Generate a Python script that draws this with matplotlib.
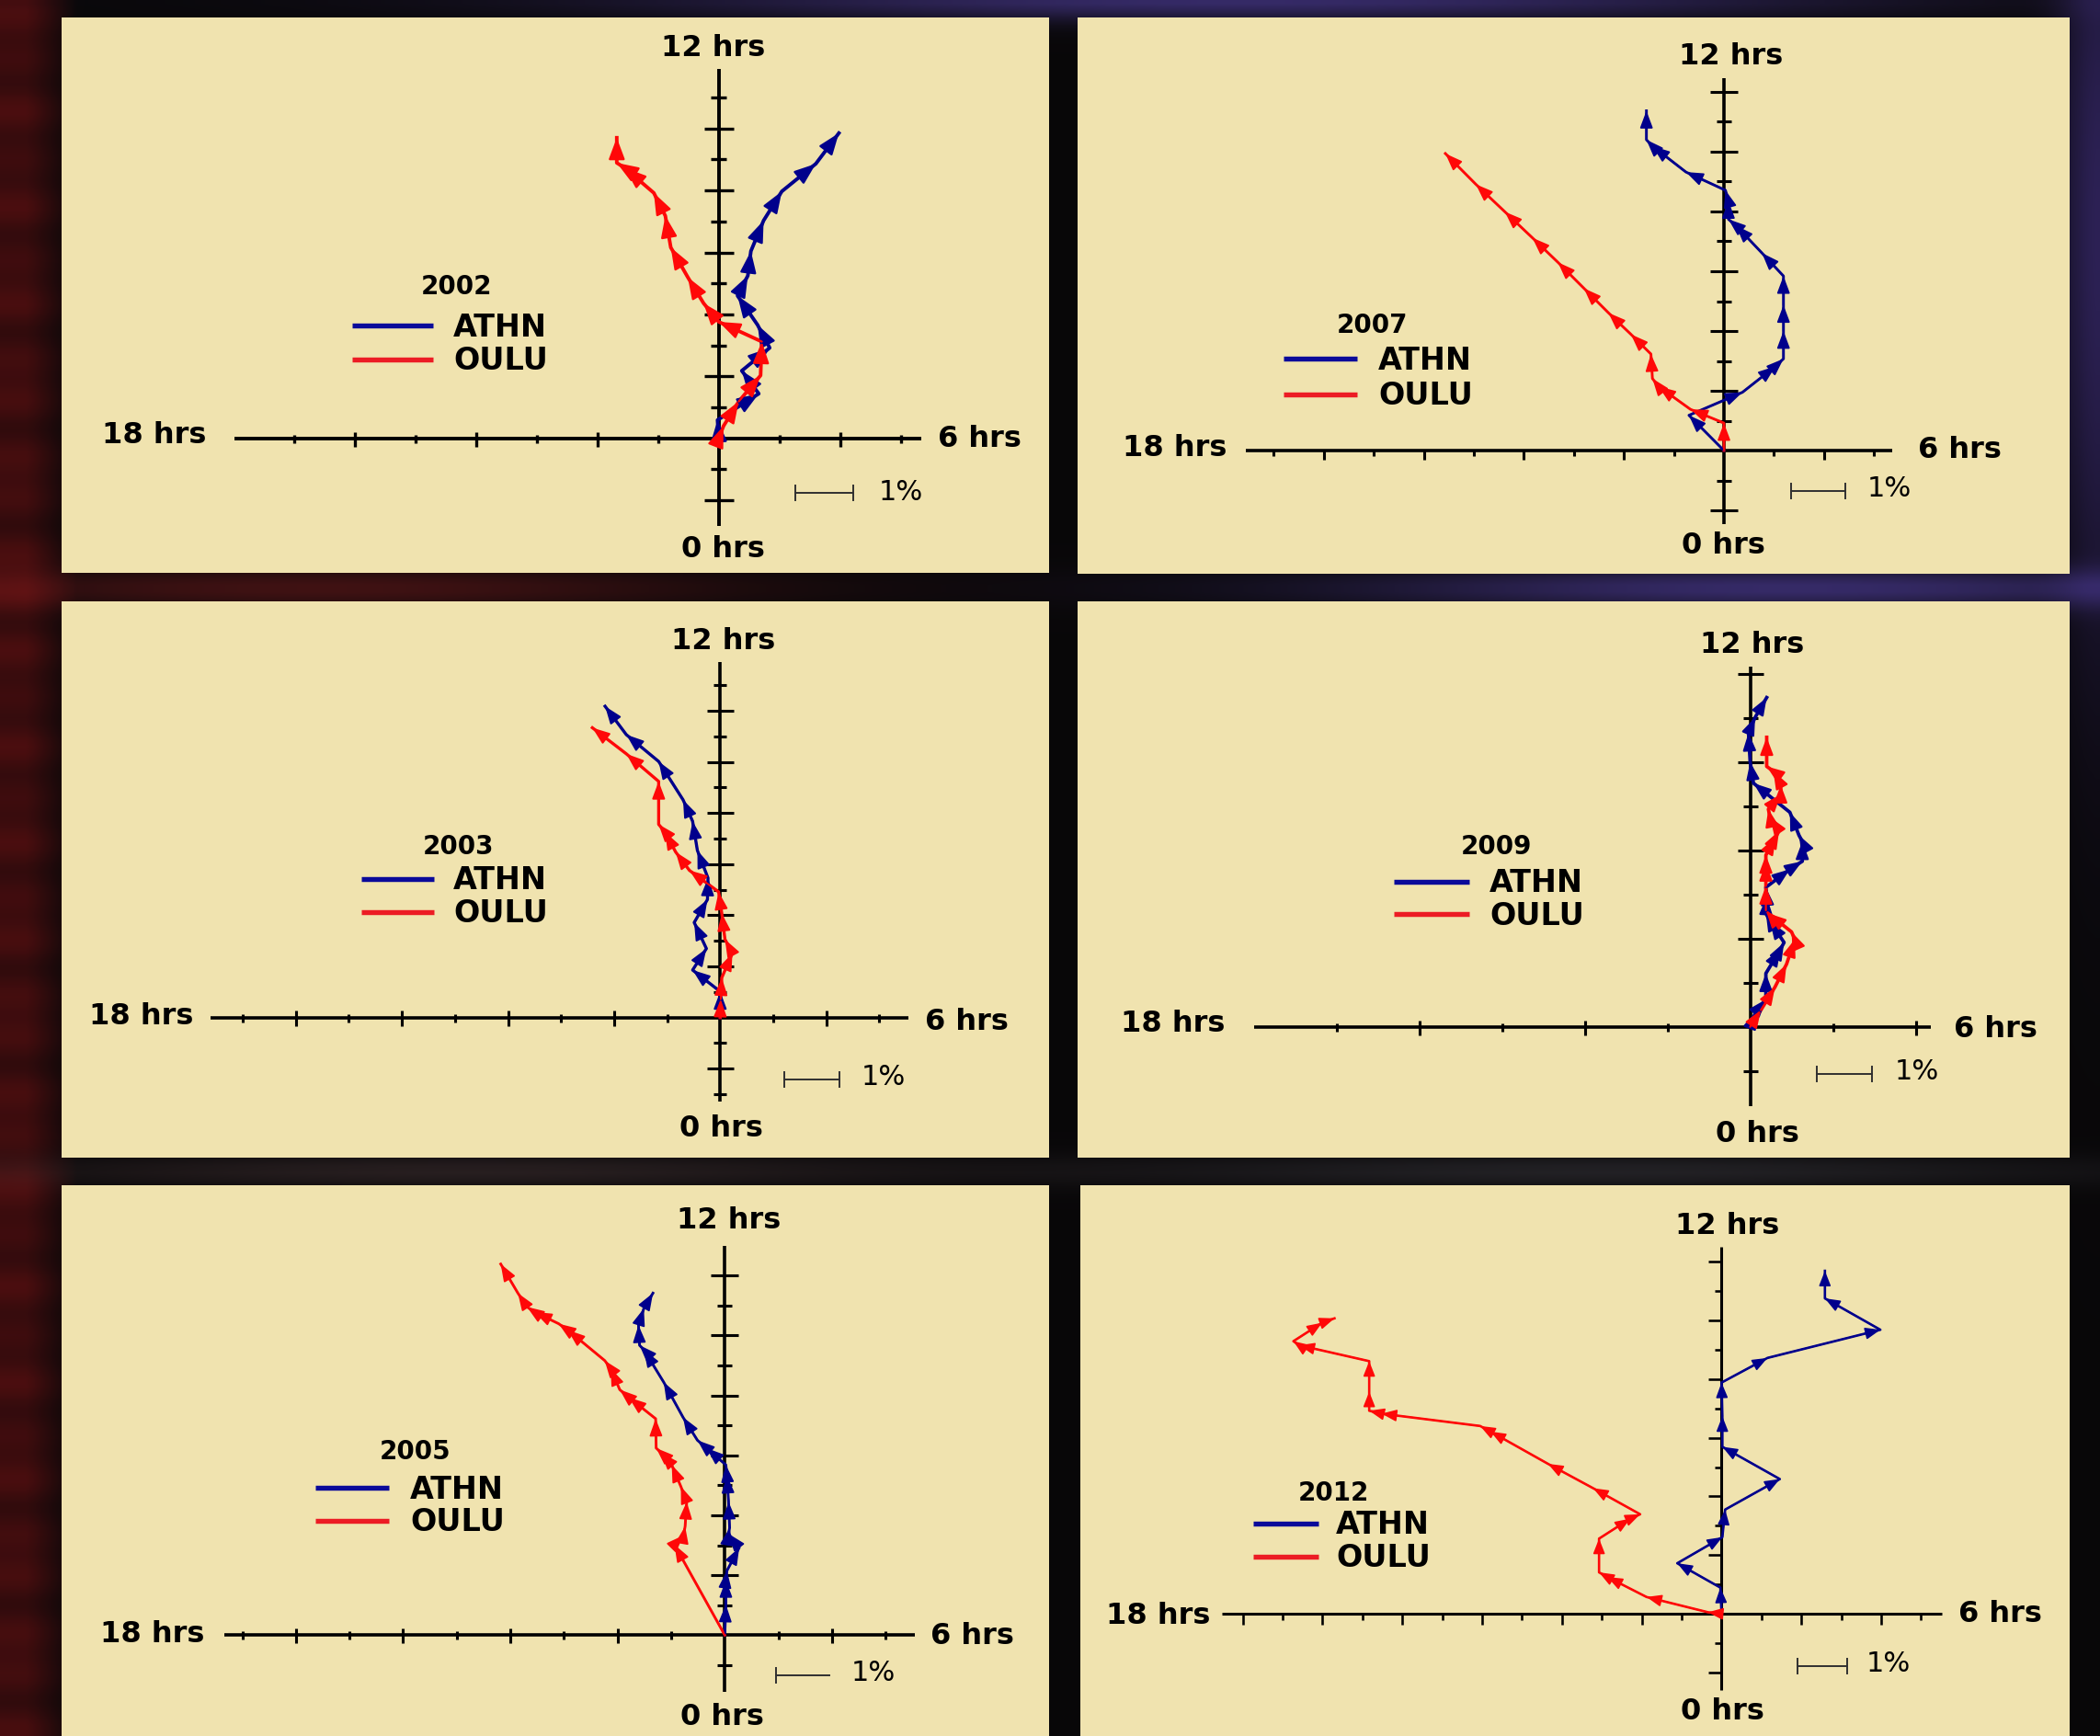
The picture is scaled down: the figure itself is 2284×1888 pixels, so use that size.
import numpy as np
import matplotlib
matplotlib.use("Agg")
import matplotlib.pyplot as plt
from matplotlib.collections import LineCollection
from matplotlib.patches import FancyArrowPatch

# ---------------- DATA (cumulative harmonic-dial points, in tick units) ----------------
YEARS = ["2002", "2007", "2003", "2009", "2005", "2012"]
STATIONS = ["ATHN", "OULU"]
HOUR_LABELS = ["12 hrs", "18 hrs", "6 hrs", "0 hrs"]
SCALE_LABEL = "1%"

ATHN_2002_X = [0, -0.02, 0.66, 0.38, 0.84, 0.64, 0.31, 0.48, 0.53, 0.74, 1.04, 1.60, 1.98]
ATHN_2002_Y = [0, 0.59, 1.44, 2.18, 2.92, 3.66, 4.60, 5.25, 6.04, 7.03, 7.97, 8.86, 9.85]
OULU_2002_X = [0, 0.08, 0.33, 0.69, 0.71, 0.00, -0.25, -0.51, -0.79, -0.88, -1.07, -1.55, -1.68, -1.68]
OULU_2002_Y = [0, 0.40, 1.19, 2.03, 3.12, 3.76, 4.36, 5.20, 6.16, 7.18, 7.92, 8.73, 8.89, 9.70]

ATHN_2007_X = [0, -0.70, 0.37, 1.03, 1.19, 1.19, 1.19, 1.19, 0.76, 0.24, 0.09, 0.09, 0.03, -0.76, -1.43, -1.55, -1.55]
ATHN_2007_Y = [0, 1.18, 1.95, 2.82, 3.07, 4.00, 4.87, 5.84, 6.61, 7.53, 7.74, 8.35, 8.71, 9.32, 10.19, 10.40, 11.37]
OULU_2007_X = [0, 0.00, -0.67, -1.31, -1.43, -1.46, -1.86, -2.31, -2.80, -3.32, -3.83, -4.38, -4.96, -5.57]
OULU_2007_Y = [0, 0.92, 1.38, 2.15, 2.41, 3.23, 3.89, 4.61, 5.43, 6.30, 7.12, 7.99, 8.91, 9.94]

ATHN_2003_X = [0, 0.00, -0.52, -0.26, -0.49, -0.24, -0.23, -0.43, -0.52, -0.70, -1.16, -1.77, -2.17]
ATHN_2003_Y = [0, 1.02, 1.86, 2.70, 3.72, 4.62, 5.46, 6.54, 7.68, 8.52, 10.02, 11.07, 12.18]
OULU_2003_X = [0, 0.01, 0.03, 0.23, 0.09, 0.03, -0.03, -0.58, -0.84, -1.04, -1.16, -1.16, -1.77, -2.41]
OULU_2003_Y = [0, 0.72, 1.56, 2.52, 3.06, 4.08, 4.92, 5.76, 6.48, 7.26, 7.56, 9.24, 10.32, 11.34]

ATHN_2009_X = [0, 0.07, 0.19, 0.19, 0.37, 0.41, 0.24, 0.19, 0.20, 0.19, 0.48, 0.63, 0.63, 0.59, 0.48, 0.04, 0.00, -0.02, 0.06, 0.20]
ATHN_2009_Y = [0, 0.35, 0.62, 1.21, 1.77, 1.91, 2.39, 2.57, 2.95, 3.16, 3.57, 3.75, 4.20, 4.34, 4.86, 5.52, 6.00, 6.66, 7.01, 7.46]
OULU_2009_X = [0, 0.13, 0.30, 0.44, 0.54, 0.50, 0.22, 0.19, 0.19, 0.19, 0.19, 0.31, 0.35, 0.24, 0.22, 0.37, 0.37, 0.28, 0.20, 0.20]
OULU_2009_Y = [0, 0.38, 0.90, 1.42, 1.98, 2.15, 2.57, 2.64, 3.19, 3.71, 3.89, 4.30, 4.44, 4.75, 4.93, 5.27, 5.48, 5.79, 5.90, 6.56]

ATHN_2005_X = [0, 0.02, 0.02, 0.04, 0.27, 0.07, 0.09, 0.07, 0.04, 0.02, -0.34, -0.51, -0.78, -1.14, -1.51, -1.59, -1.61, -1.51, -1.34]
ATHN_2005_Y = [0, 1.02, 1.84, 2.15, 2.92, 3.38, 3.58, 4.45, 5.32, 5.68, 6.24, 6.50, 7.27, 8.44, 9.52, 9.67, 10.34, 10.90, 11.41]
OULU_2005_X = [0, -0.94, -0.77, -0.74, -0.71, -0.82, -0.99, -1.19, -1.28, -1.29, -1.79, -1.96, -2.13, -2.24, -2.93, -3.10, -3.55, -3.69, -3.86, -4.18]
OULU_2005_Y = [0, 3.02, 3.33, 3.63, 4.45, 4.96, 5.68, 6.09, 6.24, 7.22, 7.93, 8.19, 8.90, 9.16, 10.18, 10.39, 10.78, 10.95, 11.41, 12.38]

ATHN_2012_X = [0, -0.03, -1.11, 0.02, 0.09, 1.46, 0.02, 0.02, 0.00, 1.15, 3.98, 2.59, 2.59]
ATHN_2012_Y = [0, 0.89, 1.72, 2.61, 3.55, 4.59, 5.69, 6.73, 7.88, 8.72, 9.68, 10.75, 11.69]
OULU_2012_X = [0, -0.34, -1.88, -2.86, -3.07, -3.07, -2.29, -2.04, -3.22, -4.35, -5.79, -6.05, -8.52, -8.83, -8.83, -8.83, -10.58, -10.73, -10.01, -9.70]
OULU_2012_Y = [0, 0.05, 0.57, 1.25, 1.41, 2.56, 3.24, 3.39, 4.28, 5.11, 6.21, 6.40, 6.82, 6.92, 7.57, 8.61, 9.15, 9.29, 9.92, 10.07]

SERIES = {
    "2002": ((ATHN_2002_X, ATHN_2002_Y), (OULU_2002_X, OULU_2002_Y)),
    "2007": ((ATHN_2007_X, ATHN_2007_Y), (OULU_2007_X, OULU_2007_Y)),
    "2003": ((ATHN_2003_X, ATHN_2003_Y), (OULU_2003_X, OULU_2003_Y)),
    "2009": ((ATHN_2009_X, ATHN_2009_Y), (OULU_2009_X, OULU_2009_Y)),
    "2005": ((ATHN_2005_X, ATHN_2005_Y), (OULU_2005_X, OULU_2005_Y)),
    "2012": ((ATHN_2012_X, ATHN_2012_Y), (OULU_2012_X, OULU_2012_Y)),
}

# ---------------- LAYOUT (pixels of the 2284x1888 image) ----------------
W, H, DPI = 2284, 1888, 100
PANEL_BG = "#F0E3AF"
BLUE = "#00008C"
RED = "#FF0808"
LEG_BLUE = "#0A0A9A"
LEG_RED = "#EC1C24"

LAYOUT = {
    "2002": dict(rect=(67, 19, 1141, 623), origin=(781.7, 476.7), sx=66.0, sy=33.7,
                 hx=(-7.98, 3.34), vy=(-2.82, 11.92), xt=(-7, 3), yt=(-2, 11),
                 xside="both", yside="both", hmaj=9, hmin=5, vmaj=16, vmin=8.5,
                 lw_axis=2.8, lw_data=2.8, head=(20, 7.5),
                 top=(776, 52), left=(168, 474), right=(1065, 477), bottom=(786, 597),
                 year=(496, 312), legx=(383, 471), legby=354, legry=391, legtx=493,
                 bar=(865, 928, 536), pct=(956, 535), caps=(True, True)),
    "2007": dict(rect=(1172, 19, 2251, 624), origin=(1875, 490), sx=54.4, sy=32.5,
                 hx=(-9.55, 3.37), vy=(-2.46, 12.45), xt=(-9, 3), yt=(-2, 12),
                 xside="down", yside="both", hmaj=10, hmin=6, vmaj=15, vmin=8,
                 lw_axis=2.6, lw_data=2.1, head=(16, 6),
                 top=(1883, 61), left=(1278, 488), right=(2131, 490), bottom=(1874, 593),
                 year=(1492, 354), legx=(1396, 1476), legby=390, legry=428.5, legtx=1499,
                 bar=(1948, 2007, 534), pct=(2031, 532), caps=(True, True)),
    "2003": dict(rect=(67, 654, 1141, 1259), origin=(783.3, 1106.7), sx=57.7, sy=27.8,
                 hx=(-9.6, 3.54), vy=(-3.3, 13.9), xt=(-9, 3), yt=(-3, 13),
                 xside="both", yside="both", hmaj=9, hmin=5, vmaj=14.5, vmin=7,
                 lw_axis=2.6, lw_data=2.4, head=(16, 6),
                 top=(787, 698), left=(154, 1106), right=(1051, 1111), bottom=(784, 1227),
                 year=(498, 921), legx=(393, 472), legby=956, legry=992, legtx=493,
                 bar=(853, 913, 1174), pct=(937, 1172), caps=(True, True)),
    "2009": dict(rect=(1172, 654, 2251, 1259), origin=(1903.5, 1116.7), sx=90.0, sy=48.0,
                 hx=(-6.0, 2.18), vy=(-1.8, 8.17), xt=(-5, 2), yt=(-1, 8),
                 xside="both", yside="both", hmaj=9, hmin=5, vmaj=14, vmin=8,
                 lw_axis=2.6, lw_data=2.7, head=(16, 6),
                 top=(1906, 702), left=(1276, 1113), right=(2170, 1120), bottom=(1911, 1233),
                 year=(1627, 921), legx=(1516, 1598), legby=959, legry=994, legtx=1620,
                 bar=(1976, 2036, 1168), pct=(2061, 1166), caps=(True, True)),
    "2005": dict(rect=(67, 1289, 1141, 1888), origin=(788.3, 1778.3), sx=58.3, sy=32.6,
                 hx=(-9.33, 3.55), vy=(-1.9, 13.0), xt=(-9, 3), yt=(-1, 12),
                 xside="both", yside="both", hmaj=9, hmin=5, vmaj=15, vmin=8,
                 lw_axis=2.6, lw_data=2.1, head=(16, 6),
                 top=(793, 1328), left=(166, 1778), right=(1057, 1779), bottom=(785, 1867),
                 year=(452, 1579), legx=(343, 423), legby=1618, legry=1653.5, legtx=446,
                 bar=(844, 902, 1822), pct=(926, 1820), caps=(True, False)),
    "2012": dict(rect=(1175, 1289, 2251, 1888), origin=(1872.4, 1755), sx=43.4, sy=31.9,
                 hx=(-12.53, 5.53), vy=(-2.6, 12.5), xt=(-12, 5), yt=(-2, 12),
                 xside="down", yside="left", hmaj=12, hmin=7, vmaj=14, vmin=7,
                 lw_axis=2.2, lw_data=1.9, head=(14, 5.5),
                 top=(1879, 1334), left=(1260, 1757), right=(2175, 1755), bottom=(1873, 1862),
                 year=(1450, 1623.5), legx=(1363, 1434), legby=1657, legry=1692.5, legtx=1453,
                 bar=(1955, 2009, 1812), pct=(2030, 1810), caps=(True, True)),
}

plt.rcParams["font.family"] = ["DejaVu Sans"]
fig = plt.figure(figsize=(W / DPI, H / DPI), dpi=DPI)

# ---------------- background ----------------
bg = fig.add_axes([0, 0, 1, 1])
gh, gw = 236, 286
ys = (np.arange(gh) + 0.5) * H / gh
xs = (np.arange(gw) + 0.5) * W / gw
X, Y = np.meshgrid(xs, ys)
img = np.zeros((gh, gw, 3))
img[...] = [0.035, 0.03, 0.035]


def blob(cx, cy, rx, ry, col):
    w = np.exp(-(((X - cx) / rx) ** 2 + ((Y - cy) / ry) ** 2))
    img[...] += w[..., None] * np.array(col)


left_w = np.clip((85 - X) / 55, 0, 1) * (0.8 + 0.2 * np.sin(Y / 11.0) * np.cos(Y / 37.0))
img[...] += left_w[..., None] * np.array([0.26, 0.025, 0.025])
blob(350, 640, 450, 22, (0.22, 0.04, 0.04))
blob(1950, 640, 500, 22, (0.18, 0.14, 0.38))
blob(1350, 0, 650, 22, (0.18, 0.14, 0.38))
blob(2284, 250, 45, 450, (0.14, 0.10, 0.30))
blob(500, 1274, 500, 18, (0.12, 0.09, 0.09))
blob(1750, 1274, 550, 18, (0.10, 0.10, 0.11))
bg.imshow(np.clip(img, 0, 1), extent=[0, W, H, 0], aspect="auto", interpolation="bilinear")
bg.set_xlim(0, W)
bg.set_ylim(H, 0)
bg.axis("off")

# ---------------- panels ----------------
for year in YEARS:
    p = LAYOUT[year]
    L, T, R, B = p["rect"]
    ox, oy = p["origin"]
    sx, sy = p["sx"], p["sy"]

    def d(px, py):
        return (px - ox) / sx, (oy - py) / sy

    ax = fig.add_axes([L / W, 1 - B / H, (R - L) / W, (B - T) / H])
    ax.set_facecolor(PANEL_BG)
    ax.set_xlim((L - ox) / sx, (R - ox) / sx)
    ax.set_ylim((oy - B) / sy, (oy - T) / sy)
    ax.set_xticks([])
    ax.set_yticks([])
    for s in ax.spines.values():
        s.set_visible(False)

    # axes lines
    ax.plot(p["hx"], [0, 0], color="black", lw=p["lw_axis"], solid_capstyle="butt", zorder=2)
    ax.plot([0, 0], p["vy"], color="black", lw=p["lw_axis"], solid_capstyle="butt", zorder=2)

    segs = []
    for k in range(p["xt"][0], p["xt"][1] + 1):
        if k == 0:
            continue
        ln = (p["hmaj"] if k % 2 == 0 else p["hmin"]) / sy
        if p["xside"] == "down":
            segs.append([(k, 0), (k, -ln)])
        else:
            segs.append([(k, -ln), (k, ln * 0.8)])
    for k in range(p["yt"][0], p["yt"][1] + 1):
        if k == 0:
            continue
        ln = (p["vmaj"] if k % 2 == 0 else p["vmin"]) / sx
        if p["yside"] == "left":
            segs.append([(-ln, k), (0, k)])
        else:
            segs.append([(-ln, k), (ln, k)])
    ax.add_collection(LineCollection(segs, colors="black", linewidths=p["lw_axis"] * 0.85, zorder=2))

    # data series with arrowheads
    hl, hw = p["head"]
    for (xv, yv), col in zip(SERIES[year], (BLUE, RED)):
        ax.plot(xv, yv, color=col, lw=p["lw_data"], solid_joinstyle="round", zorder=3)
        for i in range(len(xv) - 1):
            a = FancyArrowPatch((xv[i], yv[i]), (xv[i + 1], yv[i + 1]),
                                arrowstyle=f"-|>,head_length={hl * 0.72},head_width={hw * 0.72}",
                                mutation_scale=1, color=col, lw=p["lw_data"] * 0.6,
                                shrinkA=0, shrinkB=0, zorder=4)
            ax.add_patch(a)

    # hour labels
    for key, txt in zip(("top", "left", "right", "bottom"), HOUR_LABELS):
        x, y = d(*p[key])
        ax.text(x, y, txt, ha="center", va="center", fontsize=23, fontweight="bold", color="black", zorder=5)

    # legend
    x, y = d(*p["year"])
    ax.text(x, y, year, ha="center", va="center", fontsize=20, fontweight="bold", color="black", zorder=5)
    for st, ly, lc in zip(STATIONS, (p["legby"], p["legry"]), (LEG_BLUE, LEG_RED)):
        x0, y0 = d(p["legx"][0], ly)
        x1, _ = d(p["legx"][1], ly)
        ax.plot([x0, x1], [y0, y0], color=lc, lw=3.9, solid_capstyle="butt", zorder=5)
        tx, ty = d(p["legtx"], ly + 2)
        ax.text(tx, ty, st, ha="left", va="center", fontsize=24, fontweight="bold", color="black", zorder=5)

    # scale bar
    bx0, bx1, by = p["bar"]
    x0, y0 = d(bx0, by)
    x1, _ = d(bx1, by)
    ax.plot([x0, x1], [y0, y0], color="#303030", lw=1.4, zorder=5)
    cap = 8 / sy
    for xc, show in zip((x0, x1), p["caps"]):
        if show:
            ax.plot([xc, xc], [y0 - cap, y0 + cap], color="#303030", lw=1.4, zorder=5)
    tx, ty = d(*p["pct"])
    ax.text(tx, ty, SCALE_LABEL, ha="left", va="center", fontsize=22, color="black", zorder=5)

fig.savefig("out.png", dpi=DPI)
